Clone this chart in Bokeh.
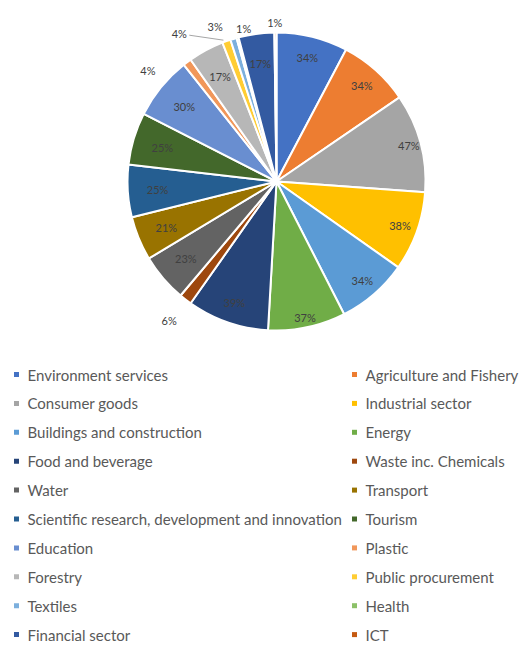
import math
from bokeh.plotting import figure
from bokeh.models import Range1d, ColumnDataSource
from bokeh.core.properties import value
from bokeh.embed import file_html
from bokeh.resources import INLINE

# ---- data ----
categories = [
    "Environment services", "Agriculture and Fishery", "Consumer goods", "Industrial sector",
    "Buildings and construction", "Energy", "Food and beverage", "Waste inc. Chemicals",
    "Water", "Transport", "Scientific research, development and innovation", "Tourism",
    "Education", "Plastic", "Forestry", "Public procurement", "Textiles", "Health",
    "Financial sector", "ICT",
]
values = [34, 34, 47, 38, 34, 37, 39, 6, 23, 21, 25, 25, 30, 4, 17, 4, 3, 1, 17, 1]
colors = [
    "#4472C4", "#ED7D31", "#A5A5A5", "#FFC000", "#5B9BD5", "#70AD47",
    "#264478", "#9E480E", "#636363", "#997300", "#255E91", "#43682B",
    "#698ED0", "#F1975A", "#B7B7B7", "#FFCD33", "#7CAFDD", "#8CC168",
    "#335AA1", "#C55A11",
]
# label placement (layout): radius factor and angular shift (deg, clockwise positive)
label_rfac = [0.86, 0.86, 0.92, 0.88, 0.88, 0.93, 0.86, 1.18, 0.80, 0.80, 0.80, 0.80,
              0.80, 1.14, 0.80, 1.19, 1.12, 1.05, 0.80, 1.07]
label_shift = [0, 0, 0, 0, 0, 0, 0, 0, 0, 0, 0, 0, 0, -12.4, 0, -13.6, -4.8, 3.0, 0, -0.2]
leader = [False] * 15 + [True] + [False] * 4

W, H = 519, 645
cx, cy_px, R = 276, 181, 149

def Y(px):
    return H - px

p = figure(width=W, height=H, x_range=Range1d(0, W), y_range=Range1d(0, H),
           output_backend="svg", toolbar_location=None, min_border=0,
           x_axis_location=None, y_axis_location=None)
p.grid.visible = False
p.outline_line_color = None
p.background_fill_color = "white"
p.border_fill_color = "white"

total = sum(values)
starts, ends, mids = [], [], []
cum = 0
for v in values:
    a0 = cum / total * 2 * math.pi
    cum += v
    a1 = cum / total * 2 * math.pi
    starts.append(math.pi / 2 - a0)
    ends.append(math.pi / 2 - a1)
    mids.append((a0 + a1) / 2)

src = ColumnDataSource(dict(start=starts, end=ends, color=colors))
p.wedge(x=cx, y=Y(cy_px), radius=R, start_angle="start", end_angle="end",
        direction="clock", fill_color="color", line_color="white", line_width=2, source=src)

lx, ly, lt = [], [], []
for i, v in enumerate(values):
    th = mids[i] + math.radians(label_shift[i])
    r = R * label_rfac[i]
    x = cx + r * math.sin(th)
    y = cy_px - r * math.cos(th)
    lx.append(x)
    ly.append(Y(y))
    lt.append(f"{v}%")
    if leader[i]:
        ex = cx + R * math.sin(mids[i])
        ey = cy_px - R * math.cos(mids[i])
        p.line([x + 10, ex - 3], [Y(y) - 2, Y(ey) + 1], line_color="#A6A6A6", line_width=1)

p.text(x=lx, y=ly, text=lt, text_align="center", text_baseline="middle",
       text_font=value("Lato"), text_font_size="11px", text_color="#404040")

# ---- legend ----
row0, dy = 374, 28.9
mx, my, tx, ty = [], [], [], []
for i, c in enumerate(categories):
    row = i // 2
    col = i % 2
    yy = row0 + row * dy
    mx.append(16 if col == 0 else 354)
    tx.append(27 if col == 0 else 365)
    my.append(Y(yy))
    ty.append(Y(yy))

p.rect(x=mx, y=my, width=5, height=5, fill_color=colors, line_color=None)
p.text(x=tx, y=ty, text=categories, text_align="left", text_baseline="middle",
       text_font=value("Lato"), text_font_size="15px", text_color="#595959")

open("out.html", "w").write(file_html(p, INLINE))
